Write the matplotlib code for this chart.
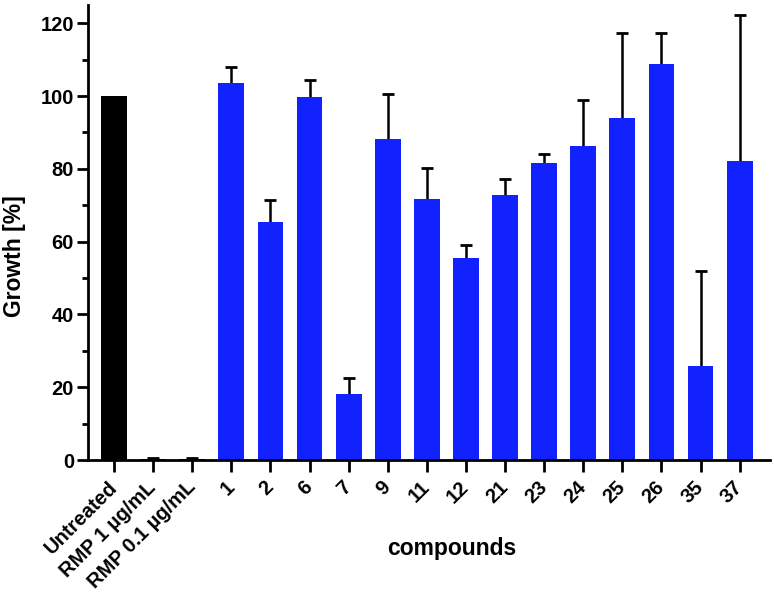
import matplotlib
matplotlib.use("Agg")
import matplotlib.pyplot as plt
import numpy as np

plt.rcParams['font.family'] = ['Liberation Sans', 'DejaVu Sans']
plt.rcParams['font.weight'] = 'bold'

categories = ["Untreated", "RMP 1 µg/mL", "RMP 0.1 µg/mL", "1", "2", "6", "7", "9",
              "11", "12", "21", "23", "24", "25", "26", "35", "37"]
values = [100.0, 0.3, 0.3, 103.7, 65.5, 99.7, 18.0, 88.1, 71.6, 55.4, 72.8, 81.7,
          86.2, 94.0, 108.8, 25.7, 82.2]
errors = [0.0, 0.3, 0.3, 4.4, 6.0, 4.8, 4.5, 12.5, 8.7, 3.7, 4.3, 2.4,
          12.8, 23.4, 8.4, 26.1, 40.1]
bar_colors = ["#000000", "#000000", "#000000"] + ["#1122ff"] * 14
y_ticks = [0, 20, 40, 60, 80, 100, 120]

fig = plt.figure(figsize=(7.74, 6.04), dpi=100)
ax = fig.add_axes([0.1137, 0.2384, 0.995 - 0.1137, 0.9917 - 0.2384])

x = np.arange(len(categories))
vals = np.array(values)
errs = np.array(errors)
has_err = errs > 0
tops = vals + errs

ax.vlines(x[has_err], vals[has_err], tops[has_err], colors='black', linewidth=1.8, zorder=1)
ax.plot(x[has_err], tops[has_err], linestyle='none', marker='_', markersize=9,
        markeredgewidth=2.0, color='black', zorder=1)
ax.bar(x, vals, width=0.66, color=bar_colors, zorder=2)

ax.set_xlim(-0.665, 16.78)
ax.set_ylim(0, 125)
ax.set_yticks(y_ticks)
ax.set_yticks(np.arange(10, 125, 20), minor=True)
ax.set_xticks(x)
ax.set_xticklabels(categories, rotation=45, ha='right', va='center', rotation_mode='anchor',
                   fontsize=14.5, fontweight='bold')
for lbl in ax.get_yticklabels():
    lbl.set_fontsize(14.5)
    lbl.set_fontweight('bold')

for s in ['top', 'right']:
    ax.spines[s].set_visible(False)
for s in ['left', 'bottom']:
    ax.spines[s].set_linewidth(2.0)

ax.tick_params(axis='x', which='major', length=8.5, width=2.0, direction='out', pad=9)
ax.tick_params(axis='y', which='major', length=8, width=2.0, direction='out', pad=2)
ax.tick_params(axis='y', which='minor', length=4.5, width=2.0)

fig.text(15 / 774, 1 - 256 / 604, "Growth [%]", rotation=90, ha='center', va='center',
         fontsize=16.5, fontweight='bold')
fig.text(452 / 774, 1 - 548 / 604, "compounds", ha='center', va='center',
         fontsize=16.5, fontweight='bold')

fig.savefig("out.png", dpi=100)
